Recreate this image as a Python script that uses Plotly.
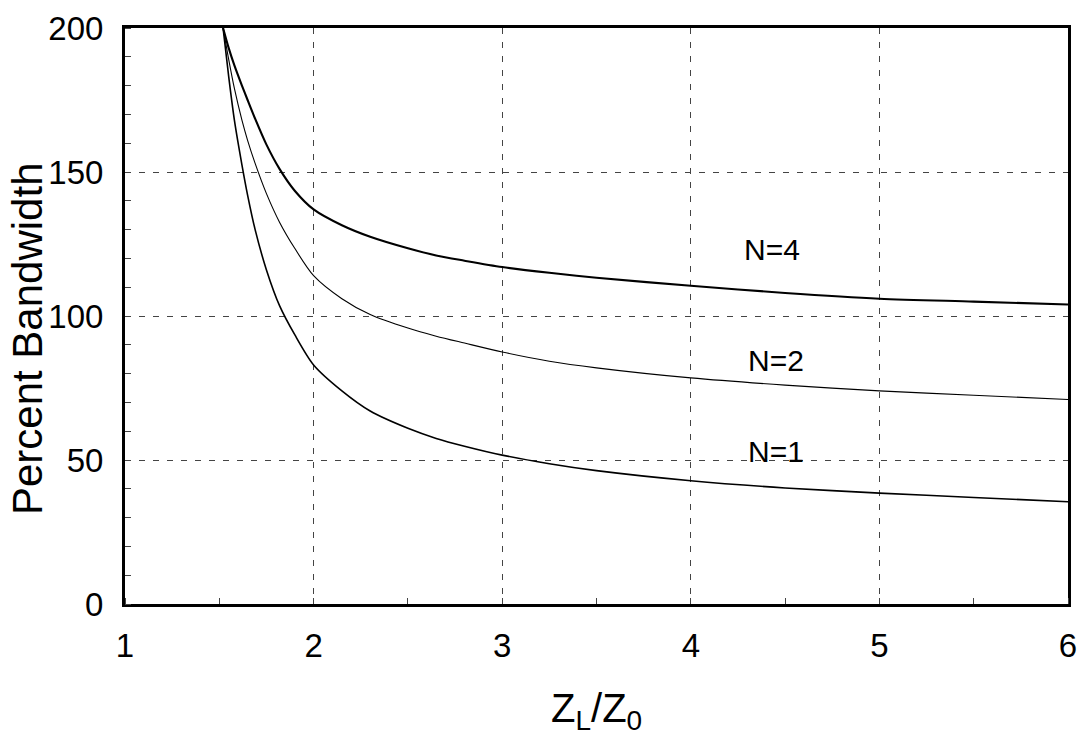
import plotly.graph_objects as go

# Data
z_ratio = [1.52, 1.55, 1.58, 1.62, 1.65, 1.69, 1.75, 1.82, 1.9, 2.0, 2.15, 2.3,
           2.5, 2.65, 2.8, 3.0, 3.25, 3.5, 4.0, 4.5, 5.0, 5.5, 6.0]
bw_n1 = [200, 183, 168, 152.5, 142, 130, 116, 103.5, 93.5, 83, 74, 67,
         61, 57.5, 54.8, 51.7, 48.7, 46.3, 42.8, 40.3, 38.5, 37, 35.5]
bw_n2 = [200, 189, 179, 168, 161, 153, 142.5, 132.5, 123.5, 114, 106, 100.5,
         95.8, 93, 90.6, 87.5, 84.3, 82, 78.5, 76, 74, 72.5, 71]
bw_n4 = [200, 193, 187, 180, 175, 168.5, 159.5, 151, 143.5, 137, 131.5, 127.5,
         123.5, 121, 119.2, 117, 115, 113.3, 110.5, 108, 106, 105, 104]

series_names = ["N=1", "N=2", "N=4"]
label_x = [4.45, 4.45, 4.43]
label_y = [53, 84.7, 123]

x_ticks = [1, 2, 3, 4, 5, 6]
y_ticks = [0, 50, 100, 150, 200]

FONT = "Liberation Sans, Arial, Helvetica, sans-serif"

fig = go.Figure()
widths = [1.6, 1.1, 2.1]
for name, vals, w in zip(series_names, [bw_n1, bw_n2, bw_n4], widths):
    fig.add_trace(go.Scatter(x=z_ratio, y=vals, mode="lines", name=name,
                             line=dict(color="black", width=w, shape="spline",
                                       smoothing=0.8),
                             showlegend=False, cliponaxis=True))

for name, lx, ly in zip(series_names, label_x, label_y):
    fig.add_annotation(x=lx, y=ly, text=name, showarrow=False,
                       font=dict(family=FONT, size=30, color="black"),
                       xanchor="center", yanchor="middle")

# Axis titles as annotations
fig.add_annotation(xref="paper", yref="paper", x=-0.1039, y=0.46,
                   text="Percent Bandwidth", textangle=-90, showarrow=False,
                   font=dict(family=FONT, size=42, color="black"),
                   xanchor="center", yanchor="middle")
fig.add_annotation(xref="paper", yref="paper", x=0.5, y=0, yshift=-107,
                   text="Z<sub>L</sub>/Z<sub>0</sub>", showarrow=False,
                   font=dict(family=FONT, size=40, color="black"),
                   xanchor="center", yanchor="middle")

fig.update_xaxes(range=[1, 6], tickvals=x_ticks,
                 ticktext=[str(v) for v in x_ticks],
                 showline=True, linecolor="black", linewidth=3, mirror=True,
                 showgrid=True, gridcolor="#444444", gridwidth=1,
                 griddash="6px,8px", zeroline=False, ticks="",
                 automargin=False, ticklabelstandoff=10,
                 ticklabeloverflow="allow",
                 tickfont=dict(family=FONT, size=33, color="black"),
                 minor=dict(dtick=0.5, tick0=1, ticks="inside", ticklen=6,
                            tickcolor="#444444", showgrid=False))
fig.update_yaxes(range=[0, 200], tickvals=y_ticks,
                 ticktext=[str(v) for v in y_ticks],
                 showline=True, linecolor="black", linewidth=3, mirror=True,
                 showgrid=True, gridcolor="#444444", gridwidth=1,
                 griddash="6px,8px", zeroline=False, ticks="",
                 automargin=False, ticklabelstandoff=12,
                 ticklabeloverflow="allow",
                 tickfont=dict(family=FONT, size=33, color="black"),
                 minor=dict(dtick=10, tick0=0, ticks="inside", ticklen=6,
                            tickcolor="#444444", showgrid=False))

fig.update_layout(width=1077, height=737,
                  margin=dict(l=125, r=9, t=28, b=133),
                  paper_bgcolor="white", plot_bgcolor="white",
                  font=dict(family=FONT, color="black"))

# Remove the browser's default 8px body margin so the figure fills the window
fig.write_html("out.html",
               config={"displayModeBar": False},
               post_script="document.body.style.margin='0';"
                           "document.body.style.overflow='hidden';")
